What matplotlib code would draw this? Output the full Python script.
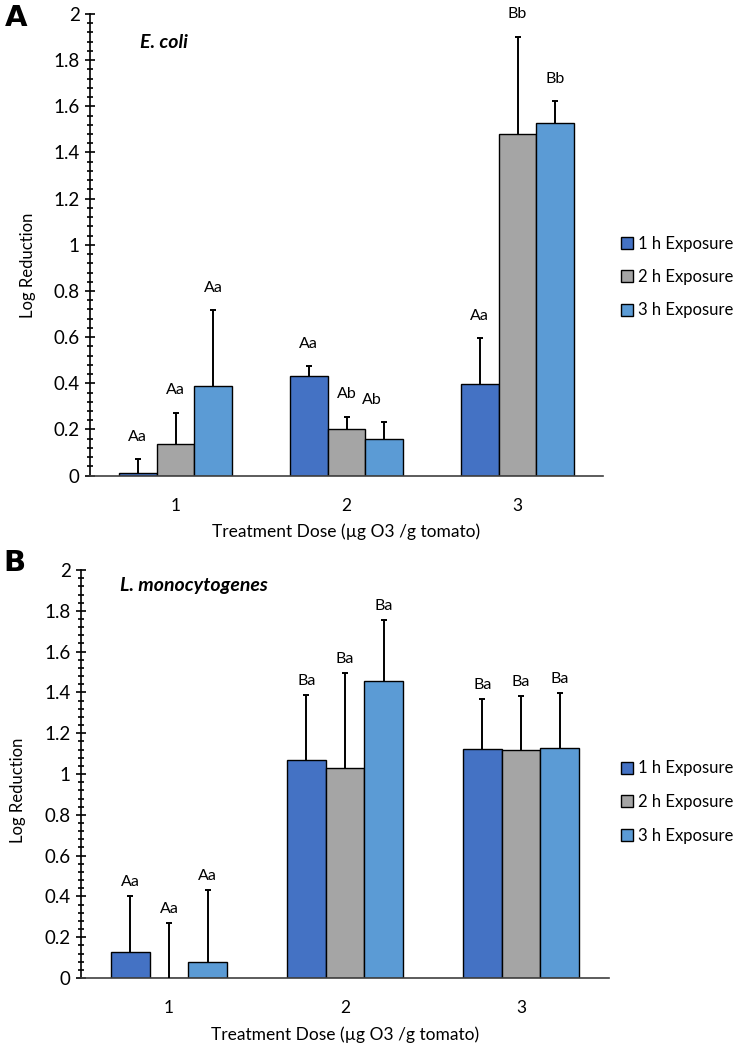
import matplotlib
matplotlib.use("Agg")
import matplotlib.pyplot as plt
import numpy as np
from matplotlib.ticker import MultipleLocator
from matplotlib.patches import Patch

plt.rcParams['font.family'] = ['Lato', 'DejaVu Sans']

doses = ["1", "2", "3"]
series = ["1 h Exposure", "2 h Exposure", "3 h Exposure"]
colors = ["#4472C4", "#A5A5A5", "#5B9BD5"]
yticks = [0, 0.2, 0.4, 0.6, 0.8, 1.0, 1.2, 1.4, 1.6, 1.8, 2.0]
ytick_labels = ["0", "0.2", "0.4", "0.6", "0.8", "1", "1.2", "1.4", "1.6", "1.8", "2"]

# Panel A: E. coli
ecoli_vals = [[0.013, 0.432, 0.399],
              [0.139, 0.204, 1.479],
              [0.390, 0.159, 1.529]]
ecoli_err = [[0.060, 0.042, 0.197],
             [0.134, 0.052, 0.423],
             [0.328, 0.073, 0.094]]
ecoli_lab = [["Aa", "Aa", "Aa"],
             ["Aa", "Ab", "Bb"],
             ["Aa", "Ab", "Bb"]]

# Panel B: L. monocytogenes
listeria_vals = [[0.127, 1.069, 1.124],
                 [0.000, 1.031, 1.116],
                 [0.080, 1.454, 1.126]]
listeria_err = [[0.277, 0.317, 0.244],
                [0.268, 0.466, 0.266],
                [0.353, 0.301, 0.271]]
listeria_lab = [["Aa", "Ba", "Ba"],
                ["Aa", "Ba", "Ba"],
                ["Aa", "Ba", "Ba"]]

fig = plt.figure(figsize=(7.5, 10.57), dpi=100)

def draw(ax, vals, errs, labs, lab_offset, name, panel, ylab, legend_y, shifts):
    x = np.arange(len(doses))
    w = 0.22
    for i in range(3):
        pos = x + (i - 1) * w
        ax.bar(pos, vals[i], w, color=colors[i], edgecolor="black", linewidth=1.0,
               label=series[i], zorder=2)
        eb = ax.errorbar(pos, vals[i], yerr=[np.zeros(3), errs[i]], fmt="none",
                         ecolor="black", elinewidth=1.4, capsize=2.3, capthick=1.4, zorder=3)
        eb[1][0].set_visible(False)
        for j in range(3):
            dx = shifts.get((i, j), 0)
            ax.annotate(labs[i][j], (pos[j], vals[i][j] + errs[i][j]),
                        xytext=(dx, lab_offset), textcoords="offset points",
                        ha="center", va="bottom", fontsize=11.5)
    ax.set_xlim(-0.5, 2.5)
    ax.set_ylim(0, 2)
    ax.set_xticks(x)
    ax.set_xticklabels(doses)
    ax.set_yticks(yticks)
    ax.set_yticklabels(ytick_labels)
    ax.yaxis.set_minor_locator(MultipleLocator(0.04))
    ax.tick_params(axis="y", which="major", direction="inout", length=7, width=1.2,
                   labelsize=13.5, pad=4)
    ax.tick_params(axis="y", which="minor", direction="inout", length=5, width=1.2)
    ax.tick_params(axis="x", length=0, labelsize=12.5, pad=16)
    for s in ["top", "right"]:
        ax.spines[s].set_visible(False)
    ax.spines["left"].set_color("black")
    ax.spines["left"].set_linewidth(1.2)
    ax.spines["bottom"].set_color("#404040")
    ax.spines["bottom"].set_linewidth(1.2)
    ax.set_xlabel("Treatment Dose (\u00b5g O3 /g tomato)", fontsize=12.5, labelpad=7)
    fig.text(ylab[0], ylab[1], "Log Reduction", rotation=90, fontsize=12,
             ha="center", va="center")
    fig.text(name[1], name[2], name[0], fontsize=14,
             fontweight="bold", fontstyle="italic", ha="left", va="center")
    fig.text(panel[1], panel[2], panel[0], fontsize=21, fontweight="bold",
             family="DejaVu Sans", ha="left", va="center")
    handles = [Patch(facecolor=colors[i], edgecolor="black", linewidth=1.0) for i in range(3)]
    fig.legend(handles, series, loc="center left", bbox_to_anchor=(0.828, legend_y),
               frameon=False, fontsize=12, handlelength=0.7, handleheight=0.7,
               handletextpad=0.35, labelspacing=1.05, borderpad=0, borderaxespad=0)

axA = fig.add_axes([0.12, 0.55, 0.684, 0.4368])
draw(axA, ecoli_vals, ecoli_err, ecoli_lab, 11,
     ("E. coli", 140 / 750, 1 - 43 / 1057), ("A", 0.006, 1 - 18 / 1057),
     (28 / 750, 1 - 265 / 1057), 1 - 277 / 1057, {(2, 1): -9})

axB = fig.add_axes([0.108, 0.0747, 0.704, 0.386])
draw(axB, listeria_vals, listeria_err, listeria_lab, 5,
     ("L. monocytogenes", 120 / 750, 1 - 585 / 1057), ("B", 0.004, 1 - 563 / 1057),
     (18 / 750, 1 - 790 / 1057), 1 - 802 / 1057, {})

fig.savefig("out.png", dpi=100)
